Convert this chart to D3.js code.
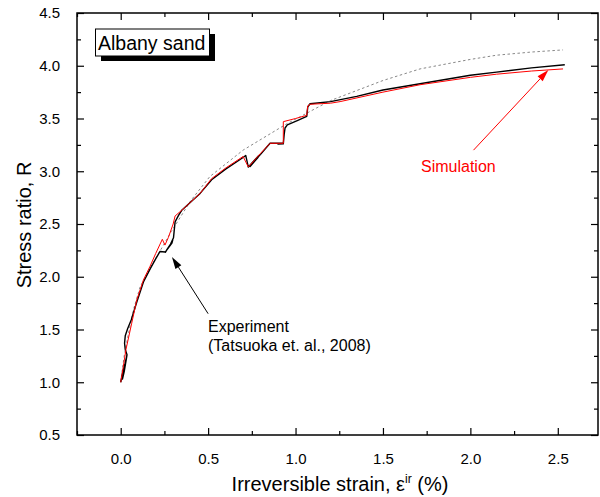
<!DOCTYPE html>
<html>
<head>
<meta charset="utf-8">
<script src="https://cdn.jsdelivr.net/npm/d3@7"></script>
<style>
  html, body { margin: 0; padding: 0; background: #fff; }
  svg { display: block; font-family: "Liberation Sans", Arial, sans-serif; }
</style>
</head>
<body>
<svg id="chart" width="600" height="497"></svg>
<script>
// Measured curve: irreversible strain (%) vs stress ratio R, with unload/reload loops
const experiment = [
  [0, 1.0], [0.012, 1.10], [0.025, 1.18], [0.035, 1.25], [0.030, 1.20], [0.018, 1.10],
  [0.010, 1.03], [0.020, 1.10], [0.032, 1.22], [0.036, 1.26], [0.026, 1.31], [0.022, 1.37],
  [0.026, 1.44], [0.040, 1.51], [0.060, 1.59], [0.092, 1.76], [0.130, 1.95], [0.170, 2.08],
  [0.200, 2.17], [0.225, 2.24], [0.253, 2.235], [0.258, 2.24], [0.275, 2.28], [0.298, 2.35],
  [0.293, 2.32], [0.262, 2.25], [0.256, 2.232], [0.265, 2.26], [0.285, 2.31], [0.302, 2.37],
  [0.305, 2.42], [0.311, 2.52], [0.330, 2.58], [0.349, 2.63], [0.454, 2.79], [0.520, 2.92],
  [0.600, 3.02], [0.700, 3.13], [0.715, 3.15], [0.730, 3.04], [0.790, 3.15], [0.785, 3.13],
  [0.740, 3.045], [0.745, 3.06], [0.800, 3.16], [0.854, 3.265], [0.930, 3.265], [0.900, 3.258],
  [0.930, 3.26], [0.935, 3.35], [0.940, 3.41], [0.953, 3.44], [1.010, 3.48], [1.064, 3.52],
  [1.070, 3.61], [1.083, 3.64], [1.200, 3.66], [1.350, 3.71], [1.500, 3.77], [1.712, 3.83],
  [2.000, 3.91], [2.150, 3.94], [2.350, 3.98], [2.540, 4.01]
];

// Model response
const simulation = [
  [0, 1.0], [0.015, 1.15], [0.030, 1.31], [0.063, 1.56], [0.092, 1.78], [0.130, 1.97],
  [0.168, 2.10], [0.200, 2.22], [0.238, 2.355], [0.253, 2.30], [0.272, 2.37], [0.300, 2.50],
  [0.311, 2.576], [0.349, 2.63], [0.454, 2.79], [0.520, 2.93], [0.600, 3.03], [0.700, 3.14],
  [0.730, 3.04], [0.800, 3.17], [0.854, 3.265], [0.930, 3.265], [0.930, 3.47], [1.000, 3.50],
  [1.064, 3.53], [1.070, 3.62], [1.083, 3.635], [1.200, 3.645], [1.255, 3.66], [1.500, 3.75],
  [1.712, 3.82], [2.000, 3.89], [2.150, 3.92], [2.350, 3.95], [2.530, 3.97]
];

// Monotonic reference envelope (dotted)
const envelope = [
  [0, 1.0], [0.010, 1.13], [0.020, 1.25], [0.044, 1.46], [0.075, 1.70], [0.110, 1.90],
  [0.160, 2.06], [0.206, 2.19], [0.290, 2.43], [0.400, 2.72], [0.510, 2.95], [0.700, 3.20],
  [0.950, 3.45], [1.200, 3.67], [1.500, 3.86], [1.712, 3.97], [2.000, 4.06], [2.150, 4.10],
  [2.350, 4.13], [2.530, 4.15]
];

// Axis ticks
const xMajorTicks = [0, 0.5, 1.0, 1.5, 2.0, 2.5];
const xMinorTicks = [-0.25, 0.25, 0.75, 1.25, 1.75, 2.25];
const yMajorTicks = [0.5, 1.0, 1.5, 2.0, 2.5, 3.0, 3.5, 4.0, 4.5];
const yMinorTicks = [0.75, 1.25, 1.75, 2.25, 2.75, 3.25, 3.75, 4.25];

// Annotation arrows: [tail, tip] in data units
const experimentArrow = [[0.50, 1.65], [0.293, 2.187]];
const simulationArrow = [[2.018, 3.20], [2.446, 3.96]];

const svg = d3.select("#chart");
const plotLeft = 77, plotRight = 598, plotTop = 13, plotBottom = 435;

const x = d3.scaleLinear().domain([-0.25, 2.73]).range([plotLeft, plotRight]);
const y = d3.scaleLinear().domain([0.5, 4.5]).range([plotBottom, plotTop]);

function styleAxis(g) {
  g.select(".domain").remove();
  g.selectAll(".tick line").attr("stroke", "#000").attr("stroke-width", 1.2);
  g.selectAll(".tick text").attr("fill", "#000").style("font-size", "15px")
    .style("font-family", "'Liberation Sans', Arial, sans-serif");
}

// Bottom axis
svg.append("g").attr("transform", `translate(0,${plotBottom})`)
  .call(d3.axisBottom(x).tickValues(xMajorTicks).tickSize(-7).tickPadding(18).tickFormat(d3.format(".1f")))
  .call(styleAxis);
svg.append("g").attr("transform", `translate(0,${plotBottom})`)
  .call(d3.axisBottom(x).tickValues(xMinorTicks).tickSize(-4).tickFormat(""))
  .call(styleAxis);
// Top axis
svg.append("g").attr("transform", `translate(0,${plotTop})`)
  .call(d3.axisTop(x).tickValues(xMajorTicks).tickSize(-7).tickFormat(""))
  .call(styleAxis);
svg.append("g").attr("transform", `translate(0,${plotTop})`)
  .call(d3.axisTop(x).tickValues(xMinorTicks).tickSize(-4).tickFormat(""))
  .call(styleAxis);
// Left axis
svg.append("g").attr("transform", `translate(${plotLeft},0)`)
  .call(d3.axisLeft(y).tickValues(yMajorTicks).tickSize(-7).tickPadding(17).tickFormat(d3.format(".1f")))
  .call(styleAxis);
svg.append("g").attr("transform", `translate(${plotLeft},0)`)
  .call(d3.axisLeft(y).tickValues(yMinorTicks).tickSize(-4).tickFormat(""))
  .call(styleAxis);
// Right axis
svg.append("g").attr("transform", `translate(${plotRight},0)`)
  .call(d3.axisRight(y).tickValues(yMajorTicks).tickSize(-7).tickFormat(""))
  .call(styleAxis);
svg.append("g").attr("transform", `translate(${plotRight},0)`)
  .call(d3.axisRight(y).tickValues(yMinorTicks).tickSize(-4).tickFormat(""))
  .call(styleAxis);

// Frame
svg.append("rect")
  .attr("x", plotLeft).attr("y", plotTop)
  .attr("width", plotRight - plotLeft).attr("height", plotBottom - plotTop)
  .attr("fill", "none").attr("stroke", "#000").attr("stroke-width", 1.5);

const line = d3.line().x(d => x(d[0])).y(d => y(d[1]));

svg.append("path").datum(envelope).attr("d", line)
  .attr("fill", "none").attr("stroke", "#888").attr("stroke-width", 1)
  .attr("stroke-dasharray", "2.5,2.5");
svg.append("path").datum(experiment).attr("d", line)
  .attr("fill", "none").attr("stroke", "#000").attr("stroke-width", 1.4)
  .attr("stroke-linejoin", "round");
svg.append("path").datum(simulation).attr("d", line)
  .attr("fill", "none").attr("stroke", "#ff0000").attr("stroke-width", 1)
  .attr("stroke-linejoin", "round");

function drawArrow(pts, color) {
  const [x0, y0] = [x(pts[0][0]), y(pts[0][1])];
  const [x1, y1] = [x(pts[1][0]), y(pts[1][1])];
  const ang = Math.atan2(y1 - y0, x1 - x0);
  const len = 12, half = 3.5;
  const bx = x1 - len * Math.cos(ang), by = y1 - len * Math.sin(ang);
  svg.append("line").attr("x1", x0).attr("y1", y0).attr("x2", bx).attr("y2", by)
    .attr("stroke", color).attr("stroke-width", 1);
  const px = -Math.sin(ang), py = Math.cos(ang);
  svg.append("path")
    .attr("d", `M${x1},${y1}L${bx + half * px},${by + half * py}L${bx - half * px},${by - half * py}Z`)
    .attr("fill", color);
}
drawArrow(experimentArrow, "#000");
drawArrow(simulationArrow, "#ff0000");

// Annotations
svg.append("text").attr("x", 208).attr("y", 332).style("font-size", "16px").text("Experiment");
svg.append("text").attr("x", 208).attr("y", 351).style("font-size", "16px").text("(Tatsuoka et. al., 2008)");
svg.append("text").attr("x", 421).attr("y", 172).attr("fill", "#ff0000").style("font-size", "16px").text("Simulation");

// Title box with drop shadow
svg.append("rect").attr("x", 101).attr("y", 34).attr("width", 114).attr("height", 27).attr("fill", "#000");
svg.append("rect").attr("x", 95.5).attr("y", 29).attr("width", 114).attr("height", 27)
  .attr("fill", "#fff").attr("stroke", "#000").attr("stroke-width", 1);
svg.append("text").attr("x", 98).attr("y", 49.5).style("font-size", "19.5px").text("Albany sand");

// Axis titles
svg.append("text")
  .attr("transform", "translate(31,225) rotate(-90)")
  .attr("text-anchor", "middle").style("font-size", "20px")
  .text("Stress ratio, R");

const xt = svg.append("text").attr("x", 340).attr("y", 491)
  .attr("text-anchor", "middle").style("font-size", "20px");
xt.append("tspan").text("Irreversible strain, ε");
xt.append("tspan").attr("dy", -8).style("font-size", "12px").text("ir");
xt.append("tspan").attr("dy", 8).text(" (%)");
</script>
</body>
</html>
